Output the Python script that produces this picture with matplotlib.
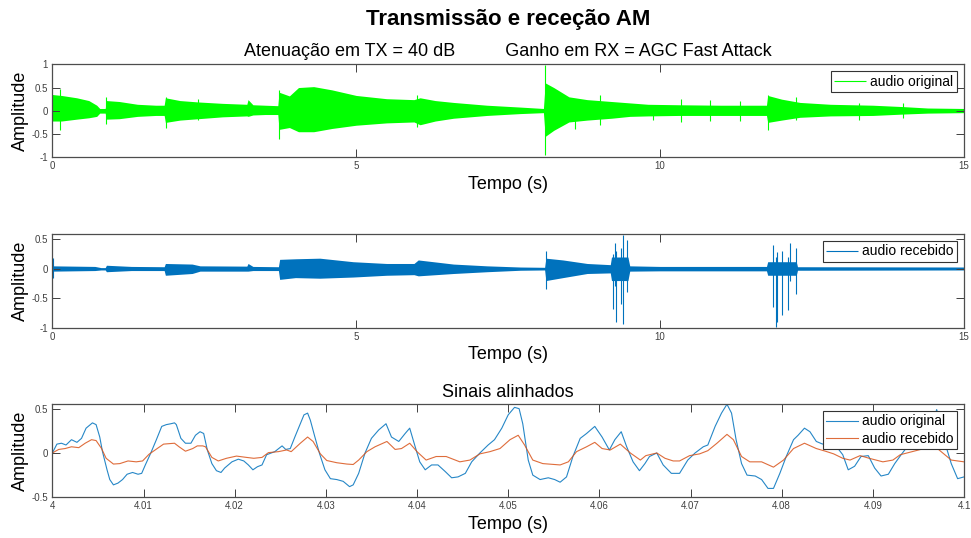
import matplotlib
matplotlib.use("Agg")
import matplotlib.pyplot as plt

plt.rcParams["font.family"] = ["Liberation Sans", "DejaVu Sans"]
plt.rcParams["axes.unicode_minus"] = False

# --- audio original: envelope (time in s, upper, lower) ---
orig_env_t = [0.00, 0.15, 0.40, 0.60, 0.73, 0.78, 0.87, 0.89, 1.10, 1.40, 1.70, 1.84,
              1.86, 2.10, 2.40, 2.80, 3.20, 3.22, 3.30, 3.50, 3.71, 3.73, 3.90, 4.05,
              4.30, 4.60, 5.00, 5.50, 5.95, 6.05, 6.30, 6.60, 7.15, 7.70, 8.08, 8.11,
              8.25, 8.50, 8.80, 9.20, 9.50, 9.80, 10.30, 11.00, 11.75, 11.77, 12.00,
              12.30, 12.80, 13.50, 14.00, 14.40, 15.00]
orig_env_hi = [0.35, 0.33, 0.28, 0.22, 0.12, 0.05, 0.05, 0.22, 0.20, 0.14, 0.12, 0.12,
               0.28, 0.22, 0.19, 0.16, 0.14, 0.24, 0.13, 0.12, 0.11, 0.40, 0.32, 0.50,
               0.52, 0.45, 0.33, 0.26, 0.24, 0.28, 0.22, 0.18, 0.12, 0.08, 0.05, 0.60,
               0.50, 0.30, 0.24, 0.20, 0.17, 0.14, 0.13, 0.12, 0.12, 0.33, 0.25,
               0.18, 0.14, 0.12, 0.09, 0.06, 0.05]
orig_env_lo = [-0.22, -0.22, -0.18, -0.15, -0.12, -0.05, -0.05, -0.18, -0.17, -0.12, -0.10, -0.10,
               -0.25, -0.20, -0.17, -0.13, -0.11, -0.12, -0.09, -0.08, -0.08, -0.40, -0.36, -0.45,
               -0.45, -0.38, -0.31, -0.26, -0.24, -0.30, -0.22, -0.16, -0.10, -0.06, -0.04, -0.55,
               -0.42, -0.24, -0.20, -0.16, -0.12, -0.11, -0.10, -0.10, -0.10, -0.25, -0.20,
               -0.14, -0.11, -0.10, -0.07, -0.05, -0.04]

# isolated peaks of the original audio
orig_peak_t = [0.13, 0.89, 1.87, 2.40, 3.73, 6.00, 8.11, 8.60, 9.01, 9.88, 10.35,
               10.82, 11.31, 11.77, 12.24, 13.28, 14.00]
orig_peak_hi = [0.47, 0.30, 0.30, 0.26, 0.44, 0.33, 0.98, 0.25, 0.33, 0.12, 0.26,
                0.24, 0.20, 0.34, 0.29, 0.16, 0.17]
orig_peak_lo = [-0.41, -0.29, -0.38, -0.20, -0.60, -0.34, -0.95, -0.40, -0.30, -0.20, -0.24,
                -0.22, -0.22, -0.42, -0.20, -0.20, -0.16]

# --- audio recebido: envelope ---
recv_env_t = [0.00, 0.70, 0.80, 0.87, 0.89, 1.30, 1.84, 1.86, 2.30, 2.43, 3.20, 3.22,
              3.30, 3.72, 3.74, 4.00, 4.40, 4.95, 5.50, 5.95, 6.02, 6.60, 7.15, 7.70,
              8.10, 8.12, 8.40, 8.80, 9.18, 9.20, 9.47, 9.50, 10.00, 11.75, 11.77,
              12.24, 12.26, 15.00]
recv_env_hi = [0.05, 0.04, 0.02, 0.02, 0.06, 0.04, 0.035, 0.09, 0.08, 0.05, 0.045, 0.09,
               0.04, 0.035, 0.16, 0.17, 0.18, 0.12, 0.09, 0.09, 0.15, 0.08, 0.05, 0.03,
               0.025, 0.18, 0.15, 0.09, 0.07, 0.20, 0.20, 0.05, 0.04, 0.04, 0.12,
               0.12, 0.035, 0.03]
recv_env_lo = [-0.04, -0.03, -0.02, -0.02, -0.05, -0.03, -0.03, -0.11, -0.08, -0.04, -0.04, -0.04,
               -0.03, -0.03, -0.18, -0.15, -0.16, -0.14, -0.11, -0.10, -0.12, -0.08, -0.05, -0.025,
               -0.02, -0.20, -0.15, -0.08, -0.07, -0.20, -0.20, -0.04, -0.035, -0.035, -0.11,
               -0.11, -0.025, -0.02]

recv_peak_t = [0.01, 8.12, 9.23, 9.25, 9.28, 9.36, 9.39, 9.45, 11.85, 11.90, 11.92,
               12.01, 12.11, 12.13, 12.23]
recv_peak_hi = [0.18, 0.30, 0.25, 0.43, 0.30, 0.35, 0.58, 0.49, 0.40, 0.20, 0.29,
                0.30, 0.20, 0.43, 0.36]
recv_peak_lo = [-0.16, -0.34, -0.68, -0.30, -0.90, -0.60, -0.93, -0.40, -0.65, -0.99, -0.90,
                -0.79, -0.70, -0.20, -0.42]

# --- aligned segment 4.0 s .. 4.1 s ---
seg_orig_t = [4.0000, 4.0005, 4.0010, 4.0015, 4.0021, 4.0027, 4.0032, 4.0037, 4.0044, 4.0048,
              4.0052, 4.0055, 4.0060, 4.0063, 4.0067, 4.0072, 4.0077, 4.0082, 4.0088, 4.0094,
              4.0098, 4.0102, 4.0108, 4.0114, 4.0120, 4.0125, 4.0130, 4.0134, 4.0136, 4.0141,
              4.0146, 4.0152, 4.0157, 4.0162, 4.0166, 4.0170, 4.0175, 4.0180, 4.0185, 4.0189,
              4.0197, 4.0204, 4.0210, 4.0215, 4.0220, 4.0225, 4.0230, 4.0235, 4.0241, 4.0244,
              4.0252, 4.0256, 4.0261, 4.0266, 4.0272, 4.0276, 4.0280, 4.0283, 4.0288, 4.0293,
              4.0299, 4.0305, 4.0312, 4.0319, 4.0326, 4.0330, 4.0336, 4.0343, 4.0350, 4.0358,
              4.0366, 4.0372, 4.0380, 4.0387, 4.0392, 4.0398, 4.0403, 4.0409, 4.0416, 4.0423,
              4.0431, 4.0438, 4.0445, 4.0453, 4.0460, 4.0469, 4.0478, 4.0485, 4.0493, 4.0500,
              4.0507, 4.0512, 4.0516, 4.0522, 4.0527, 4.0535, 4.0544, 4.0551, 4.0557, 4.0564,
              4.0571, 4.0579, 4.0586, 4.0595, 4.0603, 4.0611, 4.0617, 4.0624, 4.0630, 4.0637,
              4.0644, 4.0650, 4.0655, 4.0663, 4.0670, 4.0679, 4.0688, 4.0697, 4.0705, 4.0714,
              4.0719, 4.0727, 4.0734, 4.0740, 4.0745, 4.0750, 4.0756, 4.0762, 4.0771, 4.0778,
              4.0785, 4.0791, 4.0798, 4.0805, 4.0813, 4.0818, 4.0825, 4.0831, 4.0838, 4.0845,
              4.0852, 4.0858, 4.0867, 4.0873, 4.0880, 4.0887, 4.0895, 4.0902, 4.0909, 4.0917,
              4.0924, 4.0931, 4.0940, 4.0950, 4.0958, 4.0965, 4.0970, 4.0976, 4.0981, 4.0986,
              4.0993, 4.1000]
seg_orig = [0.00, 0.10, 0.11, 0.09, 0.15, 0.12, 0.165, 0.28, 0.34, 0.32,
            0.18, 0.015, -0.19, -0.30, -0.36, -0.34, -0.30, -0.24, -0.22, -0.24,
            -0.23, -0.135, 0.00, 0.147, 0.30, 0.32, 0.33, 0.34, 0.32, 0.165,
            0.11, 0.11, 0.20, 0.24, 0.22, 0.034, -0.12, -0.20, -0.22, -0.17,
            -0.10, -0.07, -0.09, -0.135, -0.19, -0.155, -0.135, -0.02, 0.004, 0.015,
            0.08, 0.04, 0.05, 0.18, 0.33, 0.43, 0.45, 0.37, 0.18, -0.004,
            -0.19, -0.29, -0.30, -0.32, -0.38, -0.36, -0.23, 0.00, 0.165, 0.26,
            0.33, 0.18, 0.13, 0.22, 0.28, 0.07, -0.10, -0.19, -0.135, -0.135,
            -0.21, -0.28, -0.27, -0.23, -0.10, 0.00, 0.09, 0.15, 0.28, 0.43,
            0.515, 0.50, 0.33, -0.08, -0.25, -0.30, -0.28, -0.30, -0.33, -0.27,
            -0.04, 0.165, 0.22, 0.30, 0.18, 0.034, 0.15, 0.24, 0.07, -0.10,
            -0.20, -0.12, -0.04, 0.00, -0.135, -0.23, -0.23, -0.08, 0.00, 0.07,
            0.09, 0.30, 0.45, 0.55, 0.45, 0.15, -0.12, -0.25, -0.26, -0.30,
            -0.40, -0.40, -0.23, -0.04, 0.15, 0.20, 0.28, 0.24, 0.13, 0.10,
            0.14, 0.10, -0.02, -0.19, -0.15, -0.04, -0.03, -0.17, -0.26, -0.24,
            -0.12, -0.02, 0.10, 0.12, 0.08, 0.30, 0.49, 0.30, 0.05, -0.12,
            -0.29, -0.27]

seg_recv_t = [4.0000, 4.0007, 4.0014, 4.0021, 4.0029, 4.0036, 4.0043, 4.0048, 4.0054, 4.0059,
              4.0067, 4.0074, 4.0083, 4.0092, 4.0099, 4.0106, 4.0115, 4.0122, 4.0134, 4.0139,
              4.0146, 4.0154, 4.0159, 4.0165, 4.0168, 4.0175, 4.0182, 4.0191, 4.0202, 4.0213,
              4.0221, 4.0230, 4.0237, 4.0248, 4.0257, 4.0262, 4.0272, 4.0280, 4.0286, 4.0294,
              4.0301, 4.0312, 4.0323, 4.0330, 4.0336, 4.0345, 4.0354, 4.0367, 4.0376, 4.0383,
              4.0392, 4.0400, 4.0410, 4.0421, 4.0432, 4.0447, 4.0458, 4.0469, 4.0480, 4.0491,
              4.0502, 4.0511, 4.0518, 4.0527, 4.0538, 4.0557, 4.0566, 4.0575, 4.0586, 4.0595,
              4.0603, 4.0612, 4.0623, 4.0634, 4.0645, 4.0651, 4.0663, 4.0672, 4.0681, 4.0688,
              4.0699, 4.0710, 4.0719, 4.0729, 4.0740, 4.0747, 4.0756, 4.0765, 4.0778, 4.0791,
              4.0802, 4.0813, 4.0825, 4.0838, 4.0848, 4.0857, 4.0867, 4.0875, 4.0886, 4.0896,
              4.0911, 4.0922, 4.0930, 4.0945, 4.0960, 4.0972, 4.0986, 4.1000]
seg_recv = [0.00, 0.04, 0.05, 0.07, 0.06, 0.11, 0.15, 0.14, 0.05, -0.06,
            -0.125, -0.12, -0.09, -0.10, -0.09, -0.015, 0.05, 0.10, 0.11, 0.07,
            0.02, 0.05, 0.08, 0.08, 0.07, -0.05, -0.09, -0.06, -0.035, -0.05,
            -0.06, -0.05, 0.004, 0.015, 0.034, 0.015, 0.11, 0.18, 0.13, -0.01,
            -0.085, -0.11, -0.125, -0.13, -0.08, 0.015, 0.07, 0.13, 0.04, 0.05,
            0.11, 0.015, -0.08, -0.04, -0.04, -0.10, -0.08, -0.01, 0.015, 0.05,
            0.15, 0.20, 0.09, -0.08, -0.12, -0.135, -0.10, 0.015, 0.07, 0.12,
            0.05, 0.034, 0.10, 0.00, -0.08, -0.03, 0.00, -0.06, -0.09, -0.09,
            -0.03, -0.01, 0.026, 0.11, 0.21, 0.15, -0.04, -0.10, -0.10, -0.16,
            -0.08, 0.05, 0.11, 0.05, 0.02, -0.01, -0.06, -0.08, -0.03, -0.06,
            -0.10, -0.08, -0.02, 0.02, 0.06, 0.04, -0.08, -0.10]

GREEN = "#00FF00"
BLUE = "#0072BD"
ORANGE = "#D95319"
AXIS_GREY = "#4d4d4d"

fig = plt.figure(figsize=(9.71, 5.38), dpi=100)
left, width = 0.0539, 0.9389
ax1 = fig.add_axes([left, 0.7076, width, 0.1729])
ax2 = fig.add_axes([left, 0.3909, width, 0.1741])
ax3 = fig.add_axes([left, 0.0757, width, 0.1734])


def matlab_style(ax):
    for s in ax.spines.values():
        s.set_color(AXIS_GREY)
        s.set_linewidth(0.9)
    ax.tick_params(direction="in", top=True, right=True, length=5.5, width=0.7,
                   labelsize=7, colors="#404040", pad=3)
    ax.set_xlabel("Tempo (s)", fontsize=13, labelpad=3)
    ax.set_ylabel("Amplitude", fontsize=13, labelpad=2)


def add_legend(ax):
    leg = ax.legend(loc="upper right", fontsize=10, frameon=True, fancybox=False,
                    framealpha=1, edgecolor="#333333", borderpad=0.25,
                    handlelength=2.3, handletextpad=0.3, borderaxespad=0.5,
                    labelspacing=0.25)
    leg.get_frame().set_linewidth(0.8)


# audio original
ax1.fill_between(orig_env_t, orig_env_lo, orig_env_hi, color=GREEN, lw=0)
ax1.vlines(orig_peak_t, orig_peak_lo, orig_peak_hi, color=GREEN, lw=0.8,
           label="audio original")
ax1.set_xlim(0, 15)
ax1.set_ylim(-1, 1)
ax1.set_xticks([0, 5, 10, 15])
ax1.set_yticks([-1, -0.5, 0, 0.5, 1])
ax1.set_yticklabels(["-1", "-0.5", "0", "0.5", "1"])
matlab_style(ax1)
add_legend(ax1)
ax1.set_title("Atenuação em TX = 40 dB" + " " * 10 + "Ganho em RX = AGC Fast Attack",
              fontsize=13, pad=6)

# audio recebido
ax2.fill_between(recv_env_t, recv_env_lo, recv_env_hi, color=BLUE, lw=0)
ax2.vlines(recv_peak_t, recv_peak_lo, recv_peak_hi, color=BLUE, lw=0.8,
           label="audio recebido")
ax2.set_xlim(0, 15)
ax2.set_ylim(-1, 0.59)
ax2.set_xticks([0, 5, 10, 15])
ax2.set_yticks([-1, -0.5, 0, 0.5])
ax2.set_yticklabels(["-1", "-0.5", "0", "0.5"])
matlab_style(ax2)
add_legend(ax2)

# aligned signals
ax3.plot(seg_orig_t, seg_orig, color=BLUE, lw=0.8, alpha=0.85, label="audio original")
ax3.plot(seg_recv_t, seg_recv, color=ORANGE, lw=0.8, alpha=0.85, label="audio recebido")
ax3.set_xlim(4, 4.1)
ax3.set_ylim(-0.5, 0.553)
xt = [4 + i / 100 for i in range(11)]
ax3.set_xticks(xt)
ax3.set_xticklabels(["4"] + ["%.2f" % v for v in xt[1:-1]] + ["4.1"])
ax3.set_yticks([-0.5, 0, 0.5])
ax3.set_yticklabels(["-0.5", "0", "0.5"])
matlab_style(ax3)
add_legend(ax3)
ax3.set_title("Sinais alinhados", fontsize=13, pad=5)

fig.suptitle("Transmissão e receção AM", x=0.523, y=0.963, va="center",
             fontsize=16, fontweight="bold")

fig.savefig("out.png", dpi=100)
plt.close(fig)
